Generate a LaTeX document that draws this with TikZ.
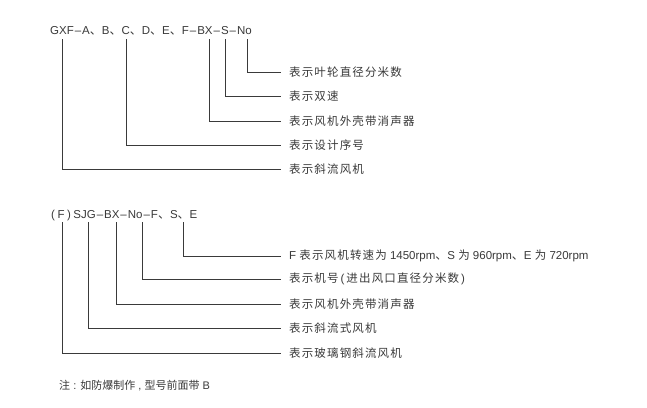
\documentclass[tikz,border=0pt]{standalone}
\usepackage{fontspec}
\setmainfont{Liberation Sans}
\newfontfamily\cjk[LetterSpace=10]{Noto Sans CJK SC}
\newfontfamily\cjkn{Noto Sans CJK SC}
\usepackage{tikz}
\definecolor{inkgray}{HTML}{3A3A3A}
\newcommand{\dd}{\hspace{1pt}–\hspace{1pt}}
\newcommand{\dn}{{\cjkn\fontsize{12}{14}\selectfont 、}}

\begin{document}
\begin{tikzpicture}[x=1pt,y=-1pt,
    code/.style={anchor=base west, inner sep=0pt, text=inkgray, font=\fontsize{11.5}{14}\selectfont},
    lbl/.style={anchor=west, inner sep=0pt, text=inkgray, font=\fontsize{11.5}{14}\selectfont},
    lead/.style={draw=inkgray, line width=0.8pt}]
    \useasboundingbox[fill=white] (0,0) rectangle (647,407);

    \node[code] (gxf) at (50,34) {GXF\dd A\dn B\dn C\dn D\dn E\dn F\dd BX\dd S\dd No};
    \coordinate (g1) at (62,39);
    \coordinate (g2) at (126,39);
    \coordinate (g3) at (209,39);
    \coordinate (g4) at (225,39);
    \coordinate (g5) at (247,39);

    \node[lbl] (t5) at (289,72) {\cjk 表示叶轮直径分米数};
    \node[lbl] (t4) at (289,96) {\cjk 表示双速};
    \node[lbl] (t3) at (289,121) {\cjk 表示风机外壳带消声器};
    \node[lbl] (t2) at (289,145) {\cjk 表示设计序号};
    \node[lbl] (t1) at (289,169) {\cjk 表示斜流风机};

    \draw[lead] (g5) |- ([xshift=-8pt]t5.west);
    \draw[lead] (g4) |- ([xshift=-8pt]t4.west);
    \draw[lead] (g3) |- ([xshift=-8pt]t3.west);
    \draw[lead] (g2) |- ([xshift=-8pt]t2.west);
    \draw[lead] (g1) |- ([xshift=-8pt]t1.west);

    \node[code] (sjg) at (51,218) {(\hspace{2.5pt}F\hspace{2.5pt})\hspace{2.5pt}SJG\dd BX\dd No\dd F\dn S\dn E};
    \coordinate (s1) at (62,222);
    \coordinate (s2) at (88,222);
    \coordinate (s3) at (116,222);
    \coordinate (s4) at (142,222);
    \coordinate (s5) at (183,222);

    \node[lbl] (u5) at (289,256) {F {\cjk 表示风机转速为} 1450rpm\dn S {\cjk 为} 960rpm\dn E {\cjk 为} 720rpm};
    \node[lbl] (u4) at (289,279) {{\cjk 表示机号}\hspace{2pt}(\hspace{2pt}{\cjk 进出风口直径分米数}\hspace{2pt})};
    \node[lbl] (u3) at (289,304) {\cjk 表示风机外壳带消声器};
    \node[lbl] (u2) at (289,328) {\cjk 表示斜流式风机};
    \node[lbl] (u1) at (289,353) {\cjk 表示玻璃钢斜流风机};

    \draw[lead] (s5) |- ([xshift=-8pt]u5.west);
    \draw[lead] (s4) |- ([xshift=-8pt]u4.west);
    \draw[lead] (s3) |- ([xshift=-8pt]u3.west);
    \draw[lead] (s2) |- ([xshift=-8pt]u2.west);
    \draw[lead] (s1) |- ([xshift=-8pt]u1.west);

    \node[lbl, font=\fontsize{11}{13}\selectfont] (note) at (59,386) {{\cjkn 注} : {\cjkn 如防爆制作} , {\cjkn 型号前面带} B};
\end{tikzpicture}
\end{document}
